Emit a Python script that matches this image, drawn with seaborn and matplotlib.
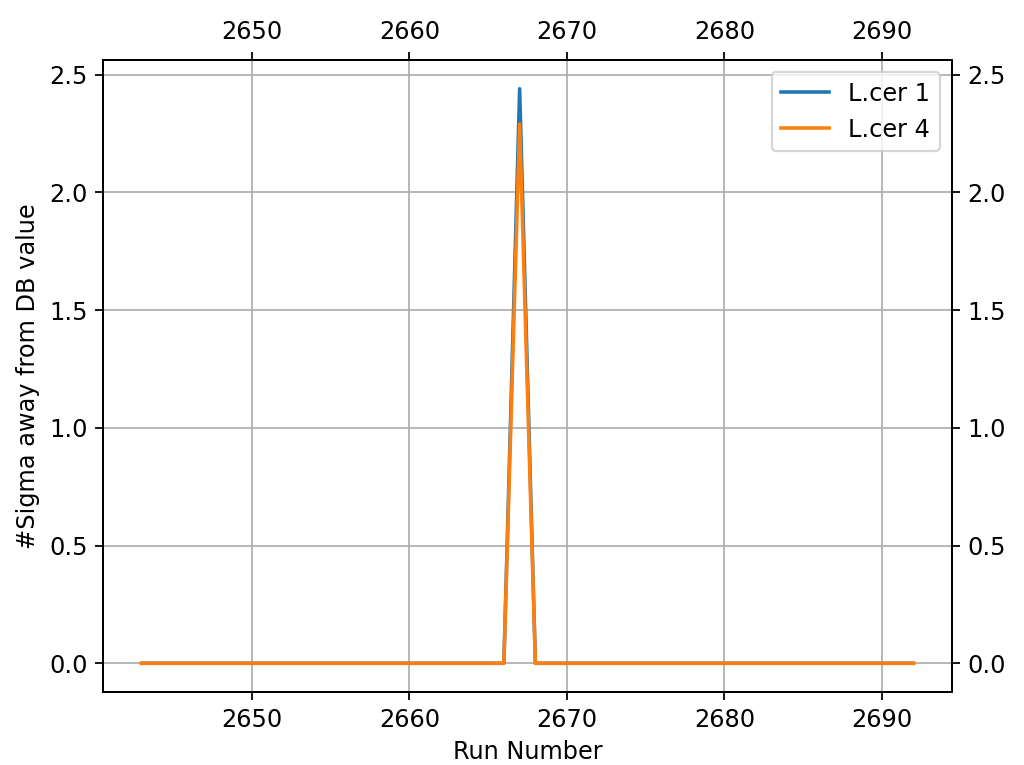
import matplotlib
matplotlib.use("Agg")
import matplotlib.pyplot as plt
import seaborn as sns
import pandas as pd

plt.rcParams["font.size"] = 10.8
plt.rcParams["lines.linewidth"] = 1.6

# Run numbers and per-run deviation (in sigma) from the DB value
runs = list(range(2643, 2693))
lcer1 = [0.0] * 24 + [2.44] + [0.0] * 25
lcer4 = [0.0] * 24 + [2.29] + [0.0] * 25

df = pd.DataFrame({"run": runs, "L.cer 1": lcer1, "L.cer 4": lcer4})

fig = plt.figure(figsize=(6.4, 4.78125), dpi=160)
ax = fig.add_axes([0.1006, 0.0954, 0.8291, 0.8261])

sns.lineplot(data=df, x="run", y="L.cer 1", ax=ax, color="#1f77b4", label="L.cer 1")
sns.lineplot(data=df, x="run", y="L.cer 4", ax=ax, color="#ff7f0e", label="L.cer 4")

ax.set_xlabel("Run Number")
ax.set_ylabel("#Sigma away from DB value")
ax.grid(True, color="#b0b0b0", linewidth=0.8)
ax.legend(loc="upper right")

# Mirror the axes on the top and right sides
axr = ax.twinx()
axr.set_ylim(ax.get_ylim())
axt = ax.twiny()
axt.set_xlim(ax.get_xlim())

fig.savefig("out.png", dpi=160)
